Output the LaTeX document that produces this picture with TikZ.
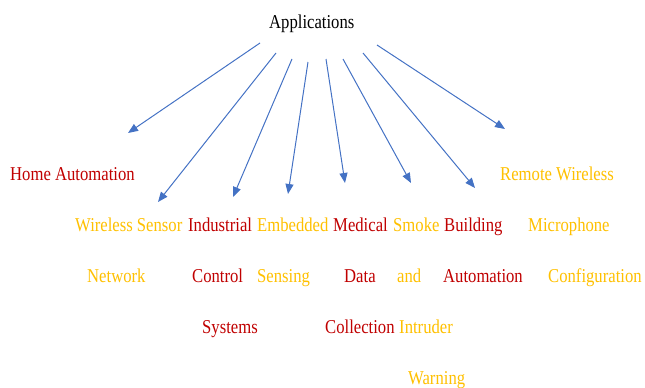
\documentclass[tikz,border=0pt]{standalone}
\usepackage{fontspec}
\setmainfont{Liberation Serif}
\usetikzlibrary{arrows.meta}
\definecolor{appred}{HTML}{C00000}
\definecolor{appgold}{HTML}{FFC000}
\definecolor{arrowblue}{HTML}{4472C4}
% narrow, tall lettering of the labels
\newcommand{\narrowtext}[1]{\scalebox{0.85}[1]{#1}}
\begin{document}
\begin{tikzpicture}[x=1pt,y=-1pt,
  lbl/.style={anchor=base west,inner sep=0pt,font=\fontsize{19.6}{23}\selectfont},
  redlbl/.style={lbl,text=appred},
  goldlbl/.style={lbl,text=appgold},
  fan/.style={draw=arrowblue,line width=1pt,-{Triangle[length=10pt,width=8pt]}}]
\useasboundingbox (0,0) rectangle (645,388);

% root
\node[lbl] (app) at (269,28) {\narrowtext{Applications}};

% first row
\node[redlbl]  (home)  at (10,180)  {\narrowtext{Home Automation}};
\node[goldlbl] (rem1)  at (500,180) {\narrowtext{Remote Wireless}};

% second row
\node[goldlbl] (wsn1)  at (75,231)  {\narrowtext{Wireless Sensor}};
\node[redlbl]  (ics1)  at (188,231) {\narrowtext{Industrial}};
\node[goldlbl] (emb1)  at (257,231) {\narrowtext{Embedded}};
\node[redlbl]  (med1)  at (333,231) {\narrowtext{Medical}};
\node[goldlbl] (smk1)  at (393,231) {\narrowtext{Smoke}};
\node[redlbl]  (bld1)  at (444,231) {\narrowtext{Building}};
\node[goldlbl] (rem2)  at (528,231) {\narrowtext{Microphone}};

% third row
\node[goldlbl] (wsn2)  at (87,282)  {\narrowtext{Network}};
\node[redlbl]  (ics2)  at (192,282) {\narrowtext{Control}};
\node[goldlbl] (emb2)  at (257,282) {\narrowtext{Sensing}};
\node[redlbl]  (med2)  at (344,282) {\narrowtext{Data}};
\node[goldlbl] (smk2)  at (397,282) {\narrowtext{and}};
\node[redlbl]  (bld2)  at (443,282) {\narrowtext{Automation}};
\node[goldlbl] (rem3)  at (548,282) {\narrowtext{Configuration}};

% fourth and fifth rows
\node[redlbl]  (ics3)  at (202,333) {\narrowtext{Systems}};
\node[redlbl]  (med3)  at (325,333) {\narrowtext{Collection}};
\node[goldlbl] (smk3)  at (399,333) {\narrowtext{Intruder}};
\node[goldlbl] (smk4)  at (408,384) {\narrowtext{Warning}};

% arrow ends
\coordinate (s1) at (260,43);  \coordinate (t1) at (128,133);
\coordinate (s2) at (276,53);  \coordinate (t2) at (158,202);
\coordinate (s3) at (292,59);  \coordinate (t3) at (233,197);
\coordinate (s4) at (308,62);  \coordinate (t4) at (288,194);
\coordinate (s5) at (326,59);  \coordinate (t5) at (345,183);
\coordinate (s6) at (343,59);  \coordinate (t6) at (411,183);
\coordinate (s7) at (363,53);  \coordinate (t7) at (475,188);
\coordinate (s8) at (377,45);  \coordinate (t8) at (505,129);

\foreach \i in {1,...,8} \draw[fan] (s\i) -- (t\i);
\end{tikzpicture}
\end{document}
